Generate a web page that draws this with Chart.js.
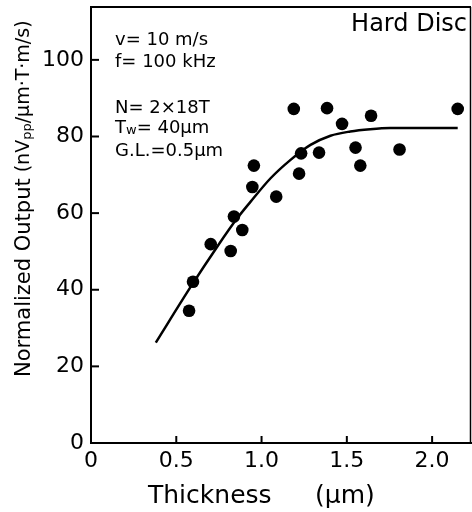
<!DOCTYPE html>
<html lang="en">
  <head>
    <meta charset="UTF-8" />
    <meta name="viewport" content="width=device-width, initial-scale=1.0" />
    <title>Normalized Output vs Thickness</title>
    <style>
      html,
      body {
        margin: 0;
        padding: 0;
        background: #fff;
        overflow: hidden;
      }
      .plot {
        width: 472px;
        height: 512px;
      }
      canvas {
        display: block;
      }
    </style>
  </head>
  <body>
    <div class="plot">
      <canvas id="mychart"></canvas>
    </div>

    <script src="https://cdn.jsdelivr.net/npm/chart.js@4.4.1/dist/chart.umd.min.js"></script>
    <script>
      // measured points: film thickness (um) / normalized output
      const thickness = [
        0.575, 0.598, 0.702, 0.819, 0.838, 0.887, 0.946, 0.955, 1.086, 1.189,
        1.22, 1.232, 1.337, 1.384, 1.472, 1.551, 1.579, 1.642, 1.809, 2.15,
      ];
      const output = [
        34.5, 42.1, 51.9, 50.1, 59.1, 55.6, 66.8, 72.4, 64.3, 87.2, 70.3, 75.6,
        75.8, 87.4, 83.3, 77.1, 72.4, 85.4, 76.6, 87.2,
      ];

      // fitted curve
      const fitThickness = [
        0.38, 0.585, 0.741, 0.858, 0.936, 1.053, 1.17, 1.287, 1.404, 1.52, 1.637,
        1.754, 2.15,
      ];
      const fitOutput = [
        26.2, 40.8, 51.3, 58.7, 63.0, 69.1, 73.9, 77.8, 80.2, 81.3, 81.9, 82.2,
        82.2,
      ];

      const xTicks = [0, 0.5, 1.0, 1.5, 2.0];
      const xTickLabels = ["0", "0.5", "1.0", "1.5", "2.0"];
      const yTicks = [0, 20, 40, 60, 80, 100];

      const FONT = "'DejaVu Sans', sans-serif";

      // draw text made of runs with different sizes (for subscripts)
      function drawRuns(ctx, x, y, runs) {
        let cx = x;
        runs.forEach((r) => {
          ctx.font = r.size + "px " + FONT;
          ctx.fillText(r.t, cx, y + (r.dy || 0));
          cx += ctx.measureText(r.t).width;
        });
      }

      // frame, inside ticks, notes and axis titles
      const decorPlugin = {
        id: "decor",
        afterLayout(chart) {
          // plot box runs to the right edge of the canvas
          const a = chart.chartArea;
          const xs = chart.scales.x;
          a.right = chart.width - 1;
          a.width = a.right - a.left;
          xs.right = a.right;
          xs.width = xs.right - xs.left;
          xs.configure();
        },
        afterDraw(chart) {
          const ctx = chart.ctx;
          const a = chart.chartArea;
          const xs = chart.scales.x;
          const ys = chart.scales.y;
          ctx.save();
          ctx.strokeStyle = "#000";
          ctx.fillStyle = "#000";

          // top and right frame
          ctx.lineWidth = 2;
          ctx.beginPath();
          ctx.moveTo(a.left, a.top);
          ctx.lineTo(a.right, a.top);
          ctx.stroke();
          ctx.lineWidth = 1.5;
          ctx.beginPath();
          ctx.moveTo(a.right - 0.5, a.top);
          ctx.lineTo(a.right - 0.5, a.bottom);
          ctx.stroke();

          // inward ticks
          ctx.lineWidth = 2;
          yTicks.forEach((v) => {
            const py = ys.getPixelForValue(v);
            ctx.beginPath();
            ctx.moveTo(a.left, py);
            ctx.lineTo(a.left + 8, py);
            ctx.stroke();
          });
          xTicks.forEach((v) => {
            const px = xs.getPixelForValue(v);
            ctx.beginPath();
            ctx.moveTo(px, a.bottom);
            ctx.lineTo(px, a.bottom - 7);
            ctx.stroke();
          });

          // notes
          ctx.textAlign = "left";
          ctx.textBaseline = "alphabetic";
          const nx = a.left + 24;
          drawRuns(ctx, nx, 45, [{ t: "v= 10 m/s", size: 18 }]);
          drawRuns(ctx, nx, 67, [{ t: "f= 100 kHz", size: 18 }]);
          drawRuns(ctx, nx, 113, [{ t: "N= 2×18T", size: 18 }]);
          drawRuns(ctx, nx, 133, [
            { t: "T", size: 18 },
            { t: "w", size: 13, dy: 1 },
            { t: "= 40μm", size: 18 },
          ]);
          drawRuns(ctx, nx, 156, [{ t: "G.L.=0.5μm", size: 18 }]);

          ctx.textAlign = "right";
          ctx.font = "24px " + FONT;
          ctx.fillText("Hard Disc", a.right - 4, 31);

          // x title
          ctx.textAlign = "left";
          ctx.font = "25px " + FONT;
          ctx.fillText("Thickness", 148, 503);
          ctx.fillText("(μm)", 315, 503);

          // y title (rotated)
          ctx.translate(30, 377);
          ctx.rotate(-Math.PI / 2);
          ctx.textAlign = "left";
          ctx.font = "21px " + FONT;
          const big = "Normalized Output";
          ctx.fillText(big, 0, 0);
          const w0 = ctx.measureText(big).width + 6;
          drawRuns(ctx, w0, -1, [
            { t: "(nV", size: 19 },
            { t: "pp", size: 13, dy: 2 },
            { t: "/μm·T·m/s)", size: 19 },
          ]);
          ctx.restore();
        },
      };

      const mychart = document.getElementById("mychart");

      new Chart(mychart, {
        type: "scatter",
        data: {
          datasets: [
            {
              label: "fit",
              type: "line",
              data: fitThickness.map((x, i) => ({ x: x, y: fitOutput[i] })),
              borderColor: "#000",
              borderWidth: 2.5,
              pointRadius: 0,
              cubicInterpolationMode: "monotone",
              fill: false,
            },
            {
              label: "measured",
              data: thickness.map((x, i) => ({ x: x, y: output[i] })),
              backgroundColor: "#000",
              borderWidth: 0,
              pointRadius: 6.3,
            },
          ],
        },
        options: {
          responsive: true,
          maintainAspectRatio: false,
          animation: false,
          layout: { padding: { top: 7, right: 1, left: 0, bottom: 0 } },
          plugins: {
            legend: { display: false },
            tooltip: { enabled: false },
          },
          scales: {
            x: {
              type: "linear",
              min: 0,
              max: 2.228,
              afterBuildTicks: (s) => {
                s.ticks = xTicks.map((v) => ({ value: v }));
              },
              afterFit: (s) => {
                s.height = 69;
                s.paddingLeft = 0;
                s.paddingRight = 0;
              },
              grid: { drawOnChartArea: false, drawTicks: false },
              border: { display: true, color: "#000", width: 2 },
              ticks: {
                color: "#000",
                padding: 5,
                maxRotation: 0,
                font: { family: FONT, size: 22 },
                callback: (v) => xTickLabels[xTicks.indexOf(v)],
              },
            },
            y: {
              type: "linear",
              min: 0,
              max: 113.8,
              afterBuildTicks: (s) => {
                s.ticks = yTicks.map((v) => ({ value: v }));
              },
              afterFit: (s) => {
                s.width = 91;
                s.paddingTop = 0;
                s.paddingBottom = 0;
              },
              grid: { drawOnChartArea: false, drawTicks: false },
              border: { display: true, color: "#000", width: 2 },
              ticks: {
                color: "#000",
                padding: 7,
                font: { family: FONT, size: 22 },
              },
            },
          },
        },
        plugins: [decorPlugin],
      });
    </script>
  </body>
</html>
